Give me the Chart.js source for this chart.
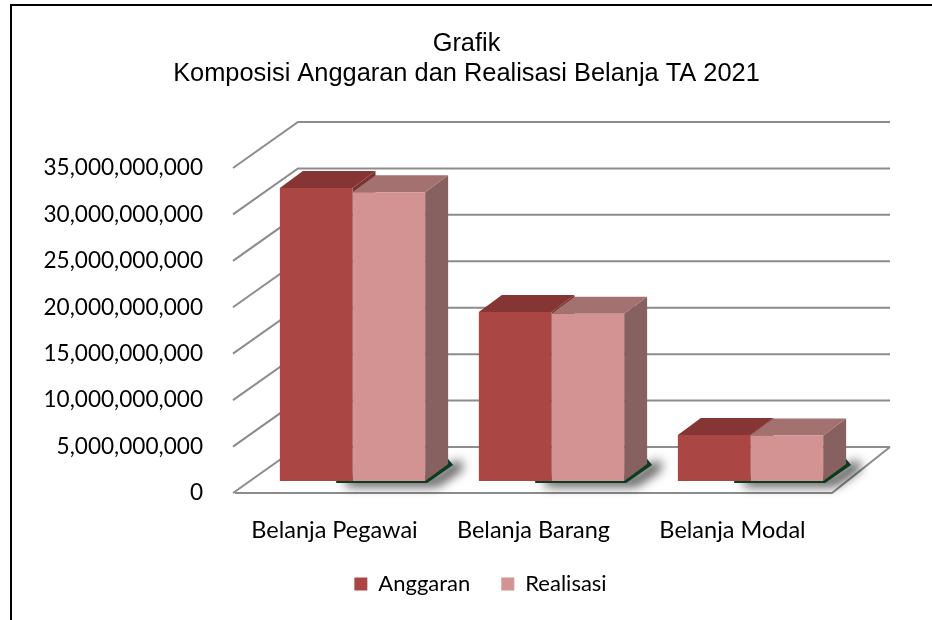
<!DOCTYPE html>
<html><head><meta charset="utf-8">
<script src="https://cdn.jsdelivr.net/npm/chart.js@4"></script>
<style>html,body{margin:0;padding:0;background:#fff}#wrap{width:932px;height:620px}</style>
</head><body><div id="wrap"><canvas id="c" width="932" height="620"></canvas></div>
<script>
const categories = ['Belanja Pegawai', 'Belanja Barang', 'Belanja Modal'];
const seriesNames = ['Anggaran', 'Realisasi'];
const anggaran = [31.55e9, 18.2e9, 4.95e9];
const realisasi = [31.1e9, 18.0e9, 4.9e9];
const yMin = 0, yMax = 35e9, yStep = 5e9;
const titleLines = ['Grafik', 'Komposisi Anggaran dan Realisasi Belanja TA 2021'];

const frontColors = ['#AA4744', '#D39392'];
const topColors = ['#843534', '#A37170'];
const sideColors = ['#7c3230', '#876160'];

const FRONT = {dx: 18, dy: -12};
const BOX = {dx: 23, dy: -17};
const WALL = {dxL: 63, dxR: 58, dy: -46};

function poly(ctx, pts, fill) {
  ctx.beginPath();
  ctx.moveTo(pts[0][0], pts[0][1]);
  for (let i = 1; i < pts.length; i++) ctx.lineTo(pts[i][0], pts[i][1]);
  ctx.closePath();
  ctx.fillStyle = fill;
  ctx.fill();
}

const threeD = {
  id: 'threeD',
  beforeDraw(chart) {
    const ctx = chart.ctx;
    ctx.save();
    ctx.fillStyle = '#fff';
    ctx.fillRect(0, 0, chart.width, chart.height);
    ctx.strokeStyle = '#000';
    ctx.lineWidth = 2;
    ctx.beginPath();
    ctx.moveTo(11, chart.height);
    ctx.lineTo(11, 5);
    ctx.lineTo(chart.width, 5);
    ctx.stroke();
    ctx.restore();
  },
  afterLayout(chart) {
    if (chart.titleBlock) { chart.titleBlock.left += 40.5; chart.titleBlock.right += 40.5; }
    if (chart.legend) { chart.legend.left += 54.5; chart.legend.right += 54.5; }
    const x = chart.scales.x;
    x.bottom += 20; x.height += 20;
  },
  beforeDatasetsDraw(chart) {
    const ctx = chart.ctx, a = chart.chartArea, y = chart.scales.y;
    ctx.save();
    ctx.strokeStyle = '#8c8c8c';
    ctx.lineWidth = 2;
    y.ticks.forEach(t => {
      const py = y.getPixelForValue(t.value);
      ctx.beginPath();
      ctx.moveTo(a.left - 2, py);
      ctx.lineTo(a.left + WALL.dxL, py + WALL.dy);
      ctx.lineTo(a.right + WALL.dxR, py + WALL.dy);
      ctx.stroke();
    });
    ctx.beginPath();
    ctx.moveTo(a.left, a.bottom);
    ctx.lineTo(a.right, a.bottom);
    ctx.lineTo(a.right + WALL.dxR, a.bottom + WALL.dy);
    ctx.stroke();
    ctx.restore();

    ctx.save();
    ctx.translate(FRONT.dx, FRONT.dy);
    const metas = [chart.getDatasetMeta(0), chart.getDatasetMeta(1)];
    for (let i = 0; i < categories.length; i++) {
      const A = metas[0].data[i].getProps(['x', 'y', 'base', 'width'], true);
      const R = metas[1].data[i].getProps(['x', 'y', 'base', 'width'], true);
      const rR = R.x + R.width / 2, b = R.base;
      ctx.save();
      ctx.shadowColor = 'rgba(0,0,0,1)';
      ctx.shadowBlur = 12;
      ctx.shadowOffsetX = 10;
      ctx.shadowOffsetY = 2;
      poly(ctx, [[A.x + 20, b - 5], [rR, b - 5], [rR + BOX.dx, b + BOX.dy - 5],
                 [rR + BOX.dx + 5, b + BOX.dy + 1], [rR + 2, b + 2], [A.x + 20, b + 2]], '#0c3b20');
      ctx.restore();
      [A, R].forEach((el, k) => {
        const l = el.x - el.width / 2, r = el.x + el.width / 2, t = el.y, bb = el.base;
        poly(ctx, [[r, t], [r + BOX.dx, t + BOX.dy], [r + BOX.dx, bb + BOX.dy], [r, bb]], sideColors[k]);
        poly(ctx, [[l, t], [l + BOX.dx, t + BOX.dy], [r + BOX.dx, t + BOX.dy], [r, t]], topColors[k]);
      });
    }
  },
  afterDatasetsDraw(chart) {
    chart.ctx.restore();
  }
};

new Chart(document.getElementById('c'), {
  type: 'bar',
  data: {
    labels: categories,
    datasets: [
      {label: seriesNames[0], data: anggaran, backgroundColor: frontColors[0], borderWidth: 0},
      {label: seriesNames[1], data: realisasi, backgroundColor: frontColors[1], borderWidth: 0}
    ]
  },
  options: {
    responsive: false,
    animation: false,
    devicePixelRatio: 1,
    layout: {padding: {left: 20, right: 100, top: 0, bottom: 15}},
    categoryPercentage: 0.73,
    barPercentage: 1,
    plugins: {
      title: {
        display: true,
        text: titleLines,
        color: '#000',
        font: {family: 'Liberation Sans', size: 25.4, weight: 'normal', lineHeight: 1.18},
        padding: {top: 29, bottom: 79}
      },
      legend: {
        position: 'bottom',
        labels: {
          boxWidth: 13, boxHeight: 13, padding: 31, color: '#000',
          font: {family: 'Lato', size: 22}
        }
      },
      tooltip: {enabled: false}
    },
    scales: {
      x: {
        grid: {display: false, drawTicks: false},
        border: {display: false},
        ticks: {color: '#000', font: {family: 'Lato', size: 23.5}, padding: 23},
        afterFit(s) { s.height = 49; }
      },
      y: {
        min: yMin, max: yMax,
        grid: {display: false, drawTicks: false},
        border: {display: false},
        ticks: {
          stepSize: yStep, color: '#000', padding: 32,
          font: {family: 'Lato', size: 22.6},
          callback: v => Number(v).toLocaleString('en-US')
        },
        afterFit(s) { s.width = 215; }
      }
    }
  },
  plugins: [threeD]
});
</script></body></html>
